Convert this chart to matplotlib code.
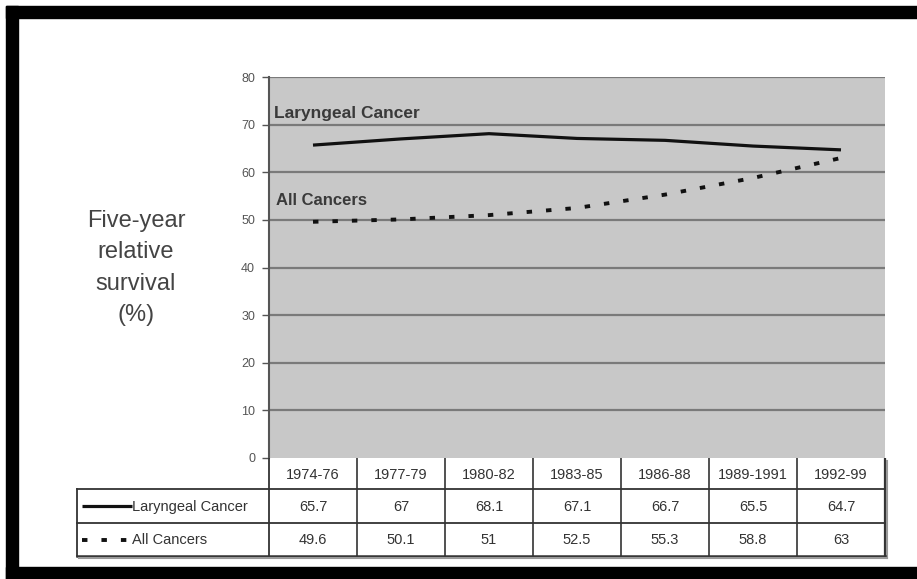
import matplotlib.pyplot as plt
from matplotlib.patches import Rectangle

# five-year relative survival, SEER periods
periods = ["1974-76", "1977-79", "1980-82", "1983-85", "1986-88", "1989-1991", "1992-99"]
laryngeal = [65.7, 67, 68.1, 67.1, 66.7, 65.5, 64.7]
all_cancers = [49.6, 50.1, 51, 52.5, 55.3, 58.8, 63]
series_names = ["Laryngeal Cancer", "All Cancers"]
yticks = [0, 10, 20, 30, 40, 50, 60, 70, 80]

W, H = 917, 579
plt.rcParams['font.family'] = ["Liberation Sans", "DejaVu Sans"]

fig = plt.figure(figsize=(W / 100, H / 100), dpi=100)
fig.patch.set_facecolor("white")


def fbox(x0, y0, x1, y1):
    # pixel box (top-left origin) -> figure fraction rect
    return [x0 / W, 1 - y1 / H, (x1 - x0) / W, (y1 - y0) / H]


# black frame
for x0, y0, x1, y1 in [(6, 6, W, 18), (6, 6, 18, H), (6, 567, W, H)]:
    fig.patches.append(Rectangle((x0 / W, 1 - y1 / H), (x1 - x0) / W, (y1 - y0) / H,
                                 transform=fig.transFigure, color="black", zorder=0))

# plot area
L, R, T, B = 269, 885, 77, 458
ax = fig.add_axes(fbox(L, T, R, B))
ax.set_facecolor("#c8c8c8")
ax.set_xlim(-0.5, len(periods) - 0.5)
ax.set_ylim(0, 80)
ax.set_yticks(yticks)
ax.set_yticklabels([str(v) for v in yticks], fontsize=9, color="#555555")
ax.set_xticks([])
ax.tick_params(axis='y', direction='out', length=5, width=1, color="#555555", pad=5)
for v in yticks[1:]:
    ax.axhline(v, color="#7a7a7a", lw=1.6, zorder=1)
for s in ["top", "right", "bottom"]:
    ax.spines[s].set_visible(False)
ax.spines["left"].set_color("#555555")
ax.spines["left"].set_linewidth(1.5)
ax.spines["left"].set_zorder(3)

xs = range(len(periods))
ax.plot(xs, laryngeal, color="#111111", lw=2.3, solid_capstyle="butt", zorder=4)
ax.plot(xs, all_cancers, color="#111111", lw=2.8, linestyle=(0, (1.4, 3.6)),
        dash_capstyle="butt", zorder=4)

ax.text(-0.44, 71.3, series_names[0], fontsize=12.5, fontweight="bold", color="#3a3a3a", zorder=5)
ax.text(-0.42, 53.2, series_names[1], fontsize=12, fontweight="bold", color="#3a3a3a", zorder=5)

# y label
fig.text(136 / W, 1 - 268 / H, "Five-year\nrelative\nsurvival\n(%)", ha="center", va="center",
         fontsize=17, color="#444444", linespacing=1.55)

# data table under the plot
tab = fig.add_axes(fbox(70, B, R + 6, 560))
tab.set_xlim(70, R + 6)
tab.set_ylim(560, B)
tab.axis("off")
row_y = [B, 489, 523, 556]
tl = 77
colw = (R - L) / len(periods)
edges = [L + i * colw for i in range(len(periods) + 1)]
lc = "#333333"

# table grid
tab.plot([L, L], [B, row_y[3]], color=lc, lw=1.3)
for e in edges[1:-1]:
    tab.plot([e, e], [B, row_y[3]], color=lc, lw=1.2)
tab.plot([R, R], [B, row_y[3]], color=lc, lw=1.6)
tab.plot([R + 2, R + 2], [B + 3, row_y[3] + 2], color="#999999", lw=1.5)
tab.plot([tl, R], [row_y[1], row_y[1]], color=lc, lw=1.3)
tab.plot([tl, R], [row_y[2], row_y[2]], color=lc, lw=1.3)
tab.plot([tl, R], [row_y[3], row_y[3]], color=lc, lw=1.8)
tab.plot([tl + 2, R + 2], [row_y[3] + 2, row_y[3] + 2], color="#999999", lw=1.5)
tab.plot([tl, tl], [row_y[1], row_y[3]], color=lc, lw=1.3)

for i, p in enumerate(periods):
    cx = (edges[i] + edges[i + 1]) / 2
    tab.text(cx, (row_y[0] + row_y[1]) / 2 + 1, p, ha="center", va="center",
             fontsize=10.5, color="#333333")
    tab.text(cx, (row_y[1] + row_y[2]) / 2 + 1, f"{laryngeal[i]:g}", ha="center", va="center",
             fontsize=10.5, color="#333333")
    tab.text(cx, (row_y[2] + row_y[3]) / 2 + 1, f"{all_cancers[i]:g}", ha="center", va="center",
             fontsize=10.5, color="#333333")

# legend keys in the row-label column
ym1 = (row_y[1] + row_y[2]) / 2
ym2 = (row_y[2] + row_y[3]) / 2
tab.plot([82, 132], [ym1, ym1], color="#111111", lw=2.3, solid_capstyle="butt")
tab.plot([82, 132], [ym2, ym2], color="#111111", lw=2.8, linestyle=(0, (1.4, 3.6)),
         dash_capstyle="butt")
tab.text(132, ym1 + 1, series_names[0], ha="left", va="center",
         fontsize=10.5, color="#333333")
tab.text(132, ym2 + 1, series_names[1], ha="left", va="center",
         fontsize=10.5, color="#333333")

fig.savefig("out.png", dpi=100, facecolor="white")
